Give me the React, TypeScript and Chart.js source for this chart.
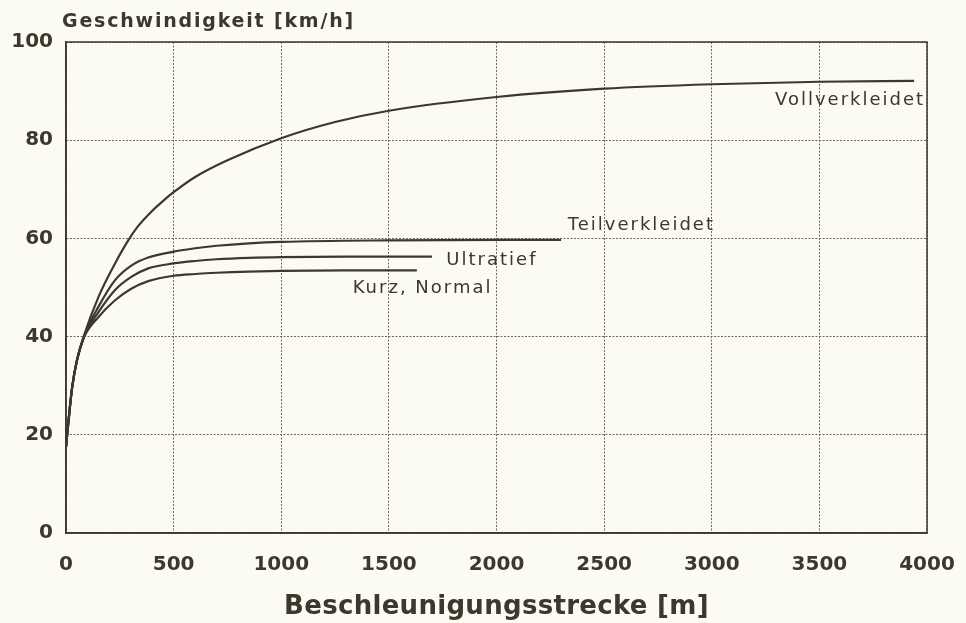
import React, { useEffect, useRef } from 'react';
import { Chart, registerables } from 'chart.js';

Chart.register(...registerables);

// ---- Data ----
const xTickValues = [0, 500, 1000, 1500, 2000, 2500, 3000, 3500, 4000];
const yTickValues = [0, 20, 40, 60, 80, 100];

const vollX = [0, 12, 29, 50, 82, 151, 228, 289, 333, 400, 458, 500, 600, 750, 1000, 1250, 1500, 2000, 2500, 3000, 3500, 3940];
const vollY = [17.5, 23, 29.8, 35, 40, 48.1, 54.9, 59.6, 62.4, 65.6, 67.9, 69.4, 72.5, 75.9, 80.4, 83.7, 86.0, 88.8, 90.5, 91.4, 91.9, 92.1];

const teilX = [0, 12, 29, 50, 85, 151, 228, 305, 382, 500, 600, 700, 850, 1000, 1500, 2300];
const teilY = [17.5, 23, 29.8, 35, 40.2, 46.1, 51.5, 54.5, 56.1, 57.3, 58.0, 58.5, 59.0, 59.3, 59.6, 59.7];

const ultraX = [0, 12, 29, 50, 85, 151, 228, 305, 382, 500, 600, 700, 850, 1000, 1300, 1700];
const ultraY = [17.5, 23, 29.8, 35, 40.1, 45.0, 49.5, 52.2, 53.9, 54.9, 55.4, 55.75, 56.05, 56.2, 56.3, 56.3];

const kurzX = [0, 12, 29, 50, 85, 151, 228, 305, 382, 500, 600, 700, 850, 1000, 1300, 1630];
const kurzY = [17.5, 23, 29.8, 35, 40.0, 44.0, 47.4, 49.8, 51.3, 52.4, 52.75, 53.0, 53.25, 53.4, 53.5, 53.5];

const seriesNames = ['Vollverkleidet', 'Teilverkleidet', 'Ultratief', 'Kurz, Normal'];
const yTitle = 'Geschwindigkeit [km/h]';
const xTitle = 'Beschleunigungsstrecke [m]';

// ---- Label placement (data units, left edge / baseline) ----
const labelAnchorX = [3294, 2331, 1767, 1332];
const labelAnchorY = [87.1, 61.7, 54.5, 48.8];

// ---- Styles ----
const INK = '#3b382c';
const GRID = '#6e6a5a';
const BG = '#fcfbf3';

const toPoints = (xs: number[], ys: number[]) => xs.map((x, i) => ({ x, y: ys[i] }));

const textPlugin = {
  id: 'textPlugin',
  beforeDraw(chart: any) {
    const { ctx, width, height } = chart;
    ctx.save();
    ctx.fillStyle = BG;
    ctx.fillRect(0, 0, width, height);
    ctx.restore();
  },
  afterDraw(chart: any) {
    const { ctx, chartArea, scales } = chart;
    ctx.save();
    ctx.setLineDash([]);
    ctx.strokeStyle = INK;
    ctx.lineWidth = 1.5;
    ctx.strokeRect(chartArea.left, chartArea.top, chartArea.right - chartArea.left, chartArea.bottom - chartArea.top);

    ctx.fillStyle = INK;
    ctx.textBaseline = 'alphabetic';

    ctx.font = 'bold 19px "DejaVu Sans"';
    (ctx as any).letterSpacing = '1.8px';
    ctx.textAlign = 'left';
    ctx.fillText(yTitle, 62, 27);

    ctx.font = 'bold 26px "DejaVu Sans"';
    (ctx as any).letterSpacing = '0.3px';
    ctx.textAlign = 'center';
    ctx.fillText(xTitle, (chartArea.left + chartArea.right) / 2, 614);

    ctx.font = '18px "DejaVu Sans"';
    (ctx as any).letterSpacing = '2px';
    ctx.textAlign = 'left';
    seriesNames.forEach((name, i) => {
      const px = scales.x.getPixelForValue(labelAnchorX[i]);
      const py = scales.y.getPixelForValue(labelAnchorY[i]);
      ctx.fillText(name, px, py);
    });
    ctx.restore();
  },
};

export default function App() {
  const canvasRef = useRef<HTMLCanvasElement | null>(null);

  useEffect(() => {
    const canvas = canvasRef.current;
    if (!canvas) return;
    const lineDs = (label: string, xs: number[], ys: number[]) => ({
      label,
      data: toPoints(xs, ys),
      borderColor: INK,
      borderWidth: 2.2,
      pointRadius: 0,
      fill: false,
      cubicInterpolationMode: 'monotone' as const,
    });
    const tickFont = { family: '"DejaVu Sans"', size: 20, weight: 'bold' };
    const chart = new Chart(canvas, {
      type: 'line',
      data: {
        datasets: [
          lineDs(seriesNames[0], vollX, vollY),
          lineDs(seriesNames[1], teilX, teilY),
          lineDs(seriesNames[2], ultraX, ultraY),
          lineDs(seriesNames[3], kurzX, kurzY),
        ],
      },
      options: {
        responsive: false,
        animation: false,
        events: [],
        layout: { padding: { left: 0, top: 42, right: 39, bottom: 0 } },
        plugins: { legend: { display: false }, tooltip: { enabled: false } },
        scales: {
          x: {
            type: 'linear',
            min: 0,
            max: 4000,
            afterBuildTicks: (scale: any) => {
              scale.ticks = xTickValues.map((v) => ({ value: v }));
            },
            afterFit: (scale: any) => {
              scale.height = 90;
              scale.paddingLeft = 0;
              scale.paddingRight = 0;
            },
            grid: { color: GRID, lineWidth: 1, drawTicks: false },
            border: { display: true, color: INK, width: 1.5, dash: [2, 1.5] },
            ticks: {
              color: INK,
              padding: 20,
              maxRotation: 0,
              autoSkip: false,
              callback: (v: any) => String(v),
              font: tickFont,
            },
          },
          y: {
            type: 'linear',
            min: 0,
            max: 100,
            afterBuildTicks: (scale: any) => {
              scale.ticks = yTickValues.map((v) => ({ value: v }));
            },
            afterFit: (scale: any) => {
              scale.width = 66;
              scale.paddingTop = 0;
              scale.paddingBottom = 0;
            },
            grid: { color: GRID, lineWidth: 1, drawTicks: false },
            border: { display: true, color: INK, width: 1.5, dash: [2, 1.5] },
            ticks: {
              color: INK,
              padding: 13,
              autoSkip: false,
              callback: (v: any) => String(v),
              font: tickFont,
            },
          },
        },
      },
      plugins: [textPlugin],
    } as any);
    return () => chart.destroy();
  }, []);

  return (
    <div style={{ position: 'absolute', left: 0, top: 0, width: 966, height: 623, background: BG }}>
      <canvas ref={canvasRef} width={966} height={623} style={{ display: 'block' }} />
    </div>
  );
}
